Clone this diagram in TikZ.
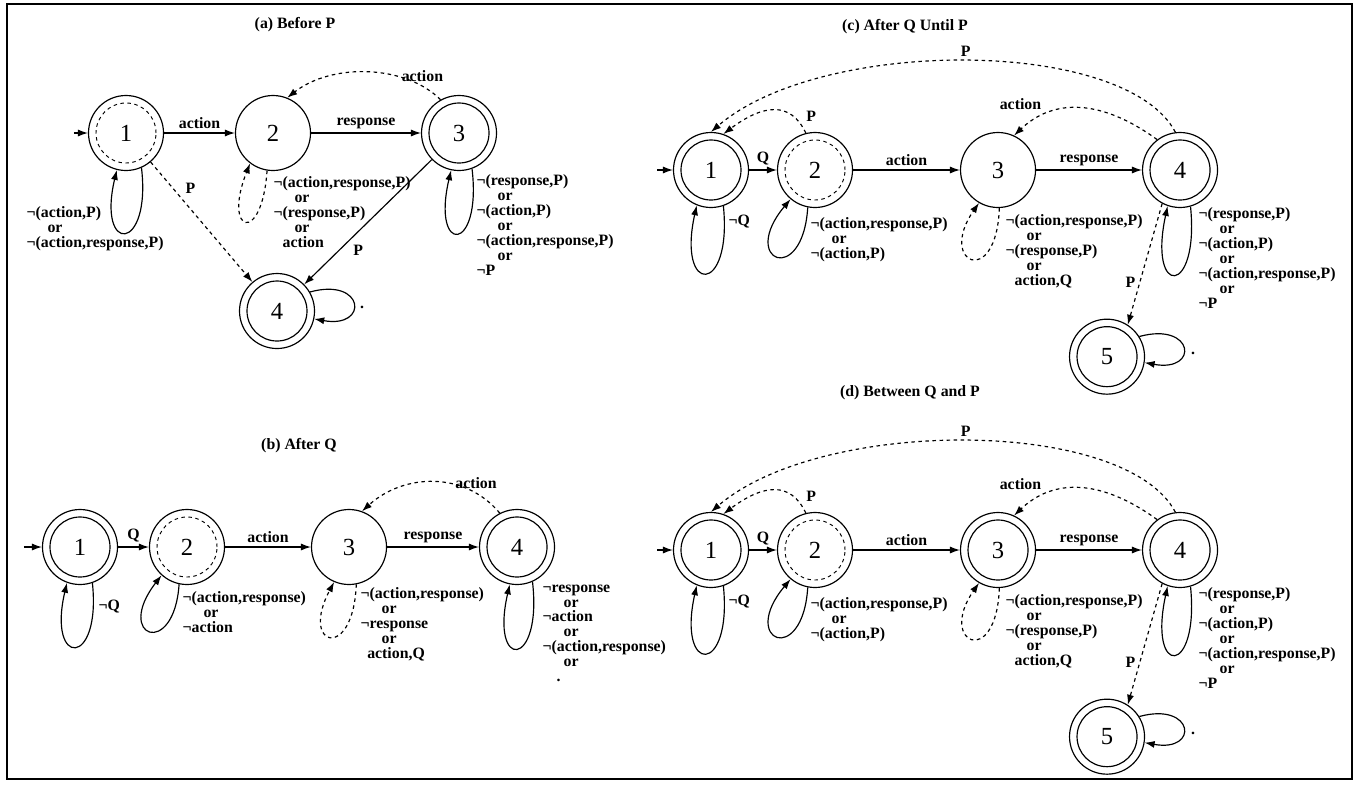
\documentclass[tikz,border=0pt]{standalone}
\usepackage{fontspec}
\setmainfont{Liberation Serif}
\usetikzlibrary{positioning,arrows.meta}

\newcommand{\orl}{\hspace*{0.63cm}or}

\tikzset{
    stnode/.style={circle, draw, line width=1pt, minimum size=2.25cm, inner sep=0pt,
        font=\mdseries\fontsize{21}{21}\selectfont},
    final/.style={stnode, path picture={\draw[line width=1pt] (path picture bounding box.center) circle (0.9cm);}},
    finaldash/.style={stnode, path picture={\draw[line width=0.8pt, dashed] (path picture bounding box.center) circle (0.9cm);}},
    looptext/.style={align=left, anchor=north west, inner sep=0pt}
}

\begin{document}
\begin{tikzpicture}[x=0.03cm, y=-0.03cm, line width=1pt, >={Latex[length=8.5pt,width=6pt]},
    font=\bfseries\fontsize{13.5}{12.75}\selectfont]
    \useasboundingbox (0,0) rectangle (1357,784);
    \draw[line width=1.4pt] (7,4) rectangle (1352,779);

    \node (ta) at (295,25) {(a) Before P};
    \node[finaldash] (a1) at (126,133) {1};
    \node[stnode, node distance=4.41cm, right of=a1] (a2) {2};
    \node[final, node distance=5.58cm, right of=a2] (a3) {3};
    \node[final, node distance=5.34cm, below of=a2, xshift=0.12cm] (a4) {4};
    \node[coordinate, node distance=1.56cm, left of=a1] (a0) {};

    \draw[->] (a0) -- (a1);
    \draw[->] (a1) -- node[above] {action} (a2);
    \draw[->] (a2) -- node[above] {response} (a3);
    \draw[->, dashed] (a3.119) .. controls +(-35,-35) and +(45,-35) .. node[pos=0.15, above] {action} (a2.68);
    \draw[->, dashed] (a1) -- node[pos=0.3, above right] {P} (a4);
    \draw[->] (a3) -- node[pos=0.65, below right] {P} (a4);
    \draw[->] (a1.-66) .. controls +(10,85) and +(-20,85) .. (a1.-104);
    \draw[->, dashed] (a2.-99) .. controls +(-5,75) and +(-28,70) .. (a2.-127);
    \draw[->] (a3.-70) .. controls +(10,85) and +(-20,85) .. (a3.-102);
    \draw[->] (a4.30) .. controls +(55,-15) and +(55,10) .. (a4.-12);

    \node[looptext] (la1) at (26,206) {¬(action,P)\\\orl\\¬(action,response,P)};
    \node[looptext] (la2) at (273,176) {¬(action,response,P)\\\orl\\¬(response,P)\\\orl\\\hspace*{0.27cm}action};
    \node[looptext] (la3) at (476,174) {¬(response,P)\\\orl\\¬(action,P)\\\orl\\¬(action,response,P)\\\orl\\¬P};
    \node[inner sep=0pt] (da4) at (362,307) {.};

    \node (tb) at (299,446) {(b) After Q};
    \node[final] (b1) at (80,547) {1};
    \node[finaldash, node distance=3.21cm, right of=b1] (b2) {2};
    \node[stnode, node distance=4.86cm, right of=b2] (b3) {3};
    \node[final, node distance=5.04cm, right of=b3] (b4) {4};
    \node[coordinate, node distance=1.68cm, left of=b1] (b0) {};

    \draw[->] (b0) -- (b1);
    \draw[->] (b1) -- node[above] {Q} (b2);
    \draw[->] (b2) -- node[above] {action} (b3);
    \draw[->] (b3) -- node[above] {response} (b4);
    \draw[->, dashed] (b4.117) .. controls +(-35,-42) and +(42,-38) .. node[pos=0.2, above] {action} (b3.70);
    \draw[->] (b1.-71) .. controls +(9,85) and +(-20,85) .. (b1.-110);
    \draw[->] (b2.-102) .. controls +(-5,75) and +(-48,62) .. (b2.-132);
    \draw[->, dashed] (b3.-79) .. controls +(-3,78) and +(-35,65) .. (b3.-113);
    \draw[->] (b4.-66) .. controls +(10,87) and +(-20,87) .. (b4.-101);

    \node[looptext] (lb1) at (98,599) {¬Q};
    \node[looptext] (lb2) at (182,591) {¬(action,response)\\\orl\\¬action};
    \node[looptext] (lb3) at (360,587) {¬(action,response)\\\orl\\¬response\\\orl\\\hspace*{0.2cm}action,Q};
    \node[looptext] (lb4) at (542,584) {¬response\\\orl\\¬action\\\orl\\¬(action,response)\\\orl\\\hspace*{0.42cm}.};

    \node (tc) at (905,27) {(c) After Q Until P};
    \node[final] (c1) at (711,170) {1};
    \node[finaldash, node distance=3.12cm, right of=c1] (c2) {2};
    \node[stnode, node distance=5.49cm, right of=c2] (c3) {3};
    \node[final, node distance=5.46cm, right of=c3] (c4) {4};
    \node[final, node distance=5.6cm, below of=c4, xshift=-2.19cm] (c5) {5};
    \node[coordinate, node distance=1.62cm, left of=c1] (c0) {};

    \draw[->] (c0) -- (c1);
    \draw[->] (c1) -- node[above] {Q} (c2);
    \draw[->] (c2) -- node[above] {action} (c3);
    \draw[->] (c3) -- node[above] {response} (c4);
    \draw[->, dashed] (c4.97) .. controls +(-50,-95) and +(110,-95) .. node[above] {P} (c1.90);
    \draw[->, dashed] (c2.104) .. controls +(-15,-32) and +(40,-30) .. node[pos=0.08, above right] {P} (c1.71);
    \draw[->, dashed] (c4.127) .. controls +(-55,-40) and +(40,-38) .. node[pos=0.75, above left] {action} (c3.65);
    \draw[->, dashed] (c4.-118) -- node[pos=0.65, left] {P} (c5.57);
    \draw[->] (c1.-71) .. controls +(9,90) and +(-20,90) .. (c1.-112);
    \draw[->] (c2.-101) .. controls +(-5,80) and +(-52,62) .. (c2.-130);
    \draw[->, dashed] (c3.-88) .. controls +(-3,82) and +(-42,60) .. (c3.-120);
    \draw[->] (c4.-74) .. controls +(9,90) and +(-20,92) .. (c4.-109);
    \draw[->] (c5.32) .. controls +(55,-15) and +(55,10) .. (c5.-9);

    \node[looptext] (lc1) at (728,214) {¬Q};
    \node[looptext] (lc2) at (810,217) {¬(action,response,P)\\\orl\\¬(action,P)};
    \node[looptext] (lc3) at (1005,214) {¬(action,response,P)\\\orl\\¬(response,P)\\\orl\\\hspace*{0.27cm}action,Q};
    \node[looptext] (lc4) at (1198,207) {¬(response,P)\\\orl\\¬(action,P)\\\orl\\¬(action,response,P)\\\orl\\¬P};
    \node[inner sep=0pt] (dc5) at (1193,353) {.};

    \node (td) at (910,393) {(d) Between Q and P};
    \node[final] (d1) at (711,550) {1};
    \node[finaldash, node distance=3.12cm, right of=d1] (d2) {2};
    \node[final, node distance=5.49cm, right of=d2] (d3) {3};
    \node[final, node distance=5.46cm, right of=d3] (d4) {4};
    \node[final, node distance=5.6cm, below of=d4, xshift=-2.19cm] (d5) {5};
    \node[coordinate, node distance=1.62cm, left of=d1] (d0) {};

    \draw[->] (d0) -- (d1);
    \draw[->] (d1) -- node[above] {Q} (d2);
    \draw[->] (d2) -- node[above] {action} (d3);
    \draw[->] (d3) -- node[above] {response} (d4);
    \draw[->, dashed] (d4.97) .. controls +(-50,-95) and +(110,-95) .. node[above] {P} (d1.90);
    \draw[->, dashed] (d2.104) .. controls +(-15,-32) and +(40,-30) .. node[pos=0.08, above right] {P} (d1.71);
    \draw[->, dashed] (d4.127) .. controls +(-55,-40) and +(40,-38) .. node[pos=0.75, above left] {action} (d3.65);
    \draw[->, dashed] (d4.-118) -- node[pos=0.65, left] {P} (d5.57);
    \draw[->] (d1.-71) .. controls +(9,90) and +(-20,90) .. (d1.-112);
    \draw[->] (d2.-101) .. controls +(-5,80) and +(-52,62) .. (d2.-130);
    \draw[->, dashed] (d3.-88) .. controls +(-3,82) and +(-42,60) .. (d3.-120);
    \draw[->] (d4.-74) .. controls +(9,90) and +(-20,92) .. (d4.-109);
    \draw[->] (d5.32) .. controls +(55,-15) and +(55,10) .. (d5.-9);

    \node[looptext] (ld1) at (728,594) {¬Q};
    \node[looptext] (ld2) at (810,597) {¬(action,response,P)\\\orl\\¬(action,P)};
    \node[looptext] (ld3) at (1005,594) {¬(action,response,P)\\\orl\\¬(response,P)\\\orl\\\hspace*{0.27cm}action,Q};
    \node[looptext] (ld4) at (1198,587) {¬(response,P)\\\orl\\¬(action,P)\\\orl\\¬(action,response,P)\\\orl\\¬P};
    \node[inner sep=0pt] (dd5) at (1193,733) {.};
\end{tikzpicture}
\end{document}
